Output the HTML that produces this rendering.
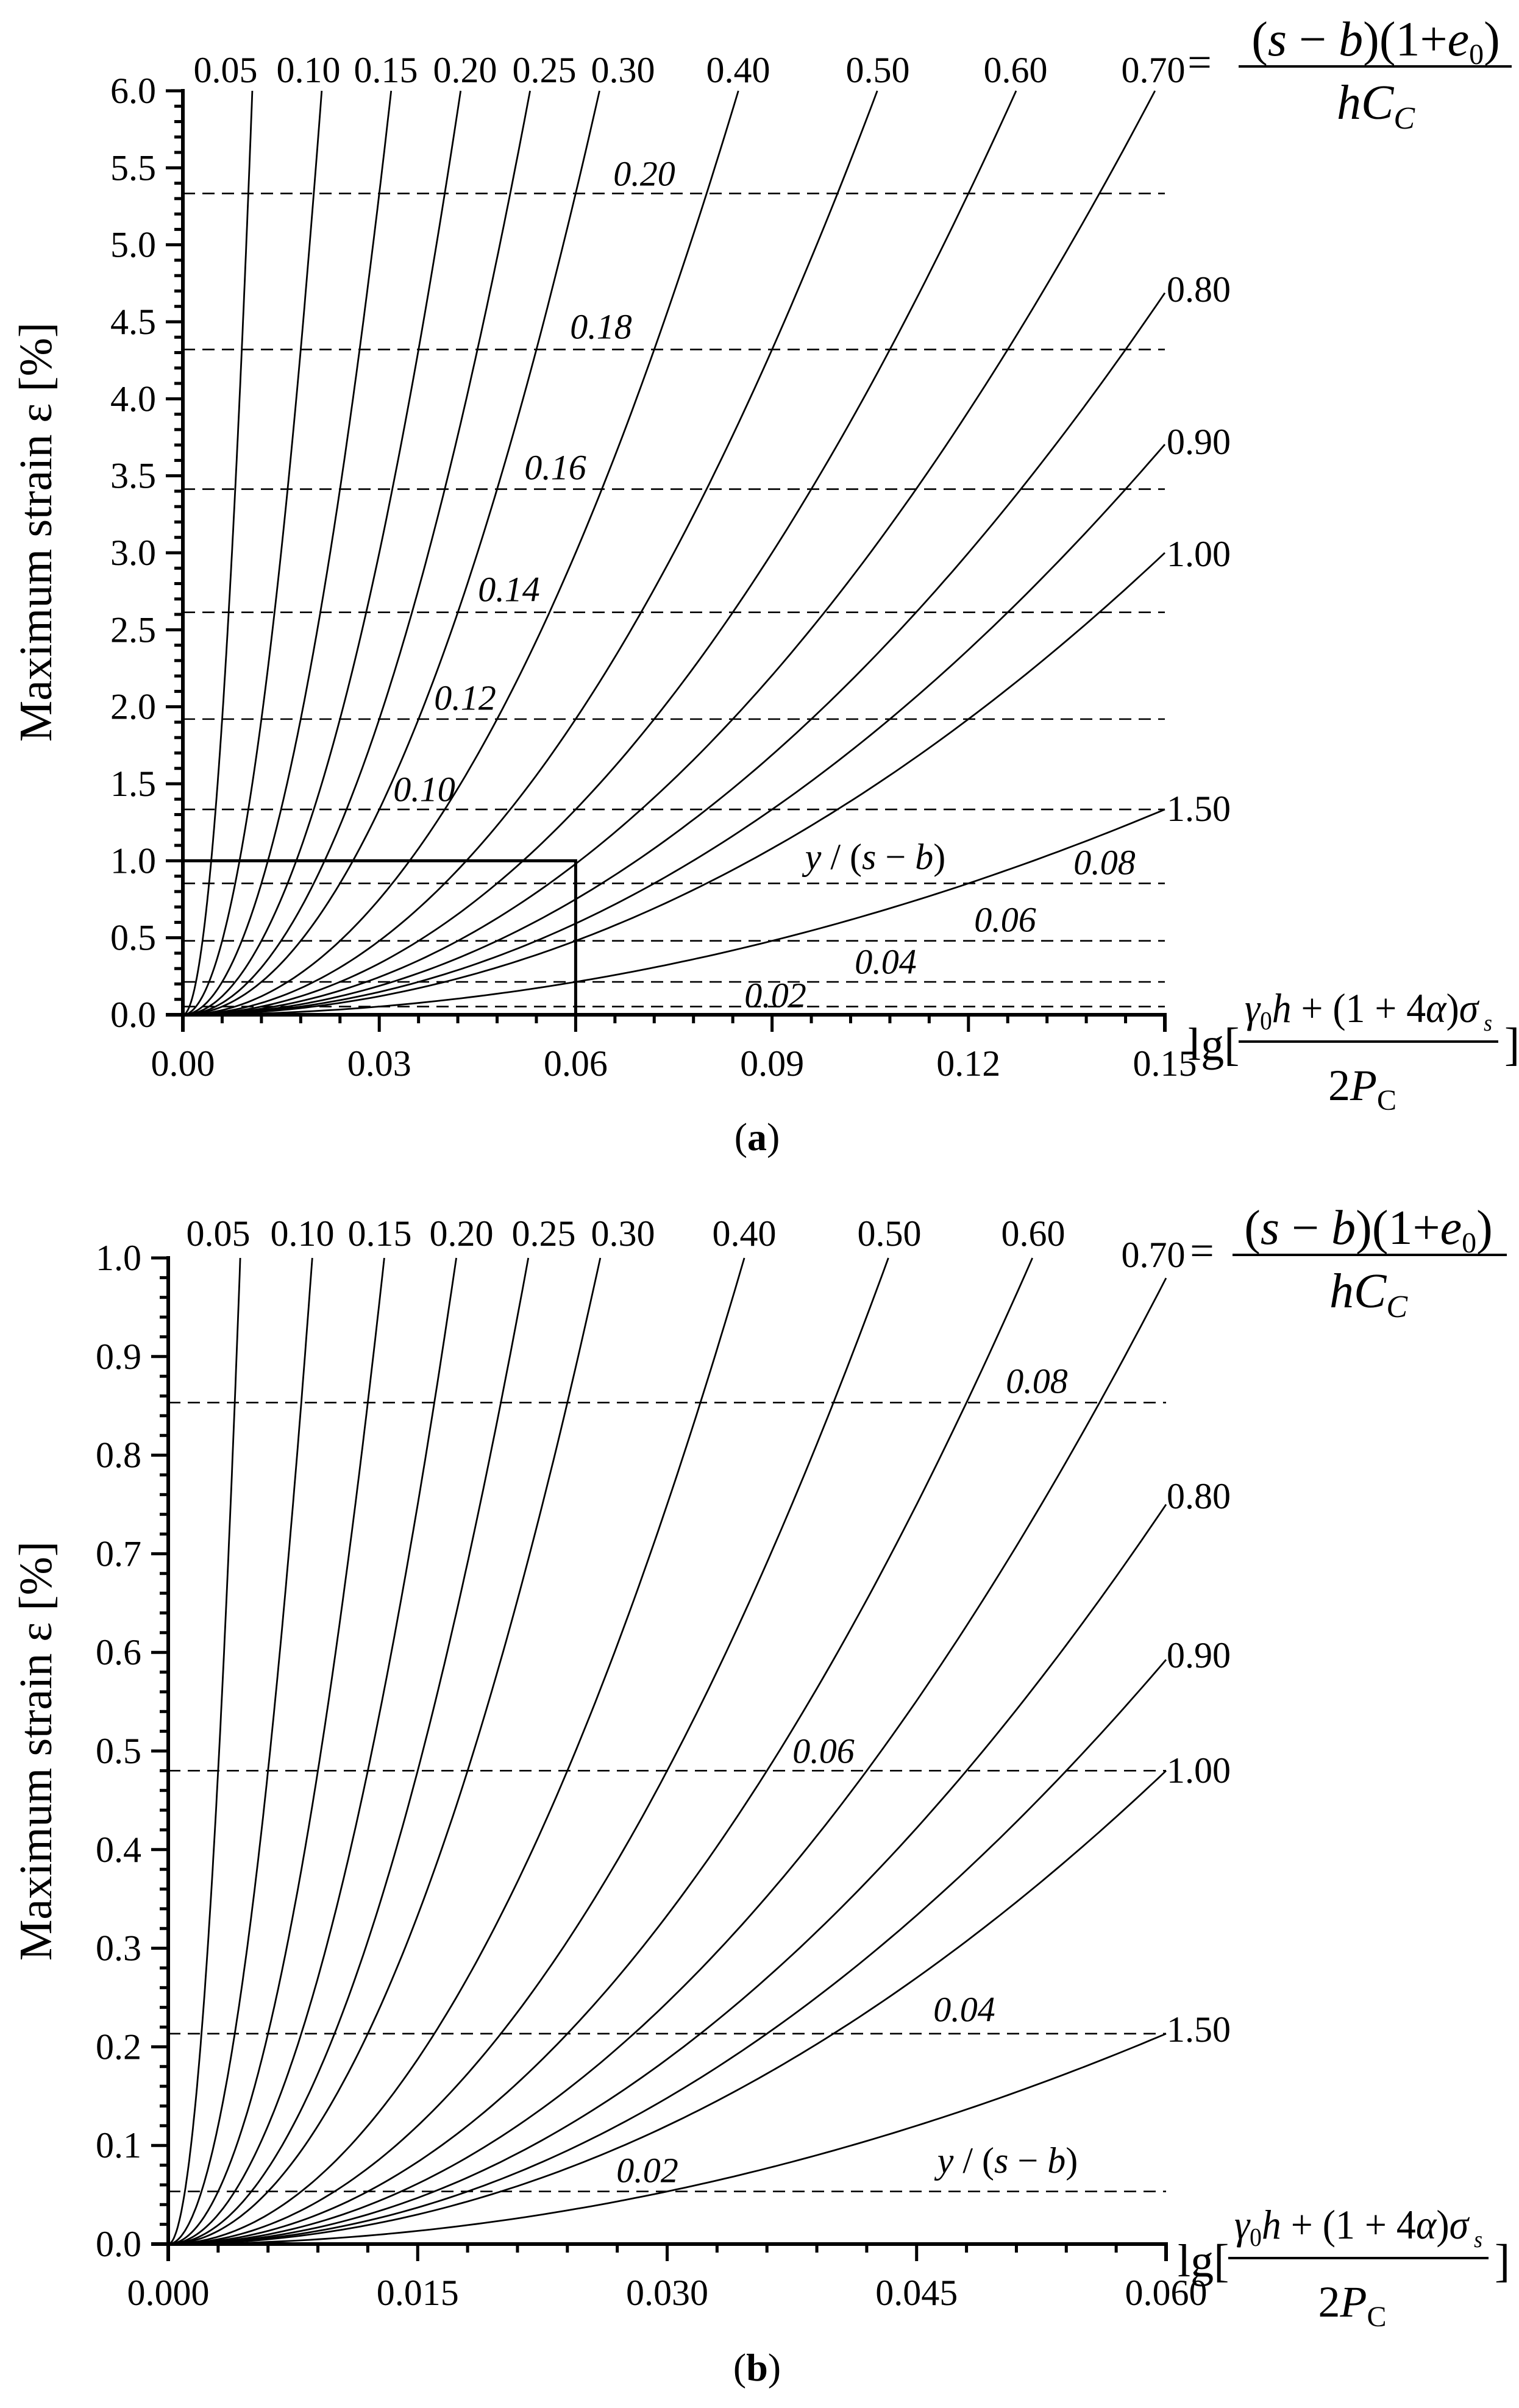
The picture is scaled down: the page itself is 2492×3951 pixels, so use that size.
<!DOCTYPE html>
<html><head><meta charset="utf-8">
<style>
html,body{margin:0;padding:0;background:#fff;}
svg, svg text, svg tspan{font-family:"Liberation Serif","Times New Roman",serif;}
</style></head>
<body>
<svg id="s" xmlns="http://www.w3.org/2000/svg" width="2492" height="3946" viewBox="0 0 2492 3946" font-family="Liberation Serif, serif">
<rect width="2492" height="3946" fill="#fff"/>
<g id="g" font-family="Liberation Serif, serif"></g>
</svg>
<script>
(function(){
var NS="http://www.w3.org/2000/svg";
var g=document.getElementById('g');
var FF="Liberation Serif, serif";
function el(tag,attrs,text){var e=document.createElementNS(NS,tag);for(var k in attrs)e.setAttribute(k,attrs[k]);if(tag=='text')e.setAttribute('font-family',FF);if(text!==undefined)e.textContent=text;g.appendChild(e);return e;}
function txt(x,y,s,opt){opt=opt||{};return el('text',{x:x,y:y,'font-size':opt.fs||60,'text-anchor':opt.anchor||'middle','font-style':opt.it?'italic':'normal','dominant-baseline':'central',fill:'#000'},s);}
var C=133.333;
var params=[0.05,0.10,0.15,0.20,0.25,0.30,0.40,0.50,0.60,0.70,0.80,0.90,1.00,1.50];
function panel(P){
  var sx=function(v){return P.X0+(v/P.xmax)*(P.X1-P.X0);};
  var sy=function(v){return P.Y0-(v/P.ymax)*(P.Y0-P.Y1);};
  P.dash.forEach(function(v){var e=C*v*v;var y=sy(e);
    el('line',{x1:P.X0,y1:y,x2:P.X1,y2:y,stroke:'#000','stroke-width':2.6,'stroke-dasharray':'20 12'});});
  params.forEach(function(r){
    var xe=Math.min(P.xmax,r*Math.sqrt(P.ymax/C));var d='';var N=120;
    for(var i=0;i<=N;i++){var x=xe*i/N;var e=C*(x/r)*(x/r);d+=(i?'L':'M')+sx(x).toFixed(1)+' '+sy(e).toFixed(1);}
    el('path',{d:d,fill:'none',stroke:'#000','stroke-width':2.8});
  });
  if(P.box){el('rect',{x:P.X0,y:sy(1),width:sx(0.06)-P.X0,height:P.Y0-sy(1),fill:'none',stroke:'#000','stroke-width':5});}
  el('line',{x1:P.X0,y1:P.Y1-3,x2:P.X0,y2:P.Y0+28,stroke:'#000','stroke-width':6});
  el('line',{x1:P.X0-28,y1:P.Y0,x2:P.X1+3,y2:P.Y0,stroke:'#000','stroke-width':6});
  el('line',{x1:P.X1,y1:P.Y0,x2:P.X1,y2:P.Y0+28,stroke:'#000','stroke-width':6});
  var nx=Math.round(P.xmax/P.xmaj);
  for(var i=0;i<=nx*5;i++){var x=sx(P.xmaj*i/5);var maj=i%5==0;
    el('line',{x1:x,y1:P.Y0,x2:x,y2:P.Y0+(maj?28:14),stroke:'#000','stroke-width':5});
    if(maj)txt(x,P.Y0+80,(P.xmaj*i/5).toFixed(P.xdec),{fs:60});}
  var ny=Math.round(P.ymax/P.ymaj);
  for(var j=0;j<=ny*5;j++){var y=sy(P.ymaj*j/5);var maj=j%5==0;
    el('line',{x1:P.X0,y1:y,x2:P.X0-(maj?28:14),y2:y,stroke:'#000','stroke-width':5});
    if(maj)txt(P.X0-44,y,(P.ymaj*j/5).toFixed(1),{fs:60,anchor:'end'});}
  P.top.forEach(function(t){txt(t[1],P.topY,t[0],{fs:60});});
  P.right.forEach(function(t){txt(1914,t[1],t[0],{fs:60,anchor:'start'});});
  P.dl.forEach(function(t){txt(t[1],t[2],t[0],{fs:58,it:true});});
  var e=el('text',{x:P.yl[0],y:P.yl[1],'font-size':60,'text-anchor':'middle','dominant-baseline':'central'});
  e.innerHTML='<tspan font-style="italic">y</tspan> / (<tspan font-style="italic">s</tspan> − <tspan font-style="italic">b</tspan>)';
  el('text',{x:0,y:0,'font-size':76,'text-anchor':'middle','dominant-baseline':'central',transform:'translate(59,'+P.ttl+') rotate(-90)'},'Maximum strain ε [%]');
  var f=P.tf;
  txt(f.eqx,f.line-6,'=',{fs:70});
  var n=el('text',{x:f.cx,y:f.line-18,'font-size':80,'text-anchor':'middle'});
  n.innerHTML='(<tspan font-style="italic">s</tspan> − <tspan font-style="italic">b</tspan>)(1+<tspan font-style="italic">e</tspan><tspan font-size="48" dy="14">0</tspan><tspan dy="-14">)</tspan>';
  el('line',{x1:f.lx1,y1:f.line,x2:f.lx2,y2:f.line,stroke:'#000','stroke-width':4});
  var dd=el('text',{x:f.cx,y:f.line+86,'font-size':80,'text-anchor':'middle'});
  dd.innerHTML='<tspan font-style="italic">hC</tspan><tspan font-style="italic" font-size="52" dy="16">C</tspan>';
  var b=P.bf;
  el('text',{x:b.lgx,y:b.line+30,'font-size':76,'text-anchor':'start'},'lg[');
  var nn=el('text',{x:(b.lx1+b.lx2)/2,y:b.line-32,'font-size':68,'text-anchor':'middle',textLength:b.lx2-b.lx1-20,lengthAdjust:'spacingAndGlyphs'});
  nn.innerHTML='<tspan font-style="italic">γ</tspan><tspan font-size="42" dy="12">0</tspan><tspan font-style="italic" dy="-12">h</tspan> + (1 + 4<tspan font-style="italic">α</tspan>)<tspan font-style="italic">σ</tspan><tspan font-style="italic" font-size="38" dy="14"> s</tspan>';
  el('line',{x1:b.lx1,y1:b.line,x2:b.lx2,y2:b.line,stroke:'#000','stroke-width':4});
  var d2=el('text',{x:(b.lx1+b.lx2)/2-10,y:b.line+96,'font-size':72,'text-anchor':'middle'});
  d2.innerHTML='2<tspan font-style="italic">P</tspan><tspan font-size="48" dy="16">C</tspan>';
  el('text',{x:b.rb,y:b.line+30,'font-size':76,'text-anchor':'start'},']');
  var cap=el('text',{x:1242,y:P.cap,'font-size':64,'text-anchor':'middle','dominant-baseline':'central'});
  cap.innerHTML='(<tspan font-weight="bold">'+P.capl+'</tspan>)';
}
panel({X0:300,X1:1911,xmax:0.15,Y0:1665,Y1:149,ymax:6,xmaj:0.03,ymaj:0.5,xdec:2,box:true,
  dash:[0.02,0.04,0.06,0.08,0.10,0.12,0.14,0.16,0.18,0.20],
  top:[['0.05',370],['0.10',506],['0.15',633],['0.20',763],['0.25',893],['0.30',1022],['0.40',1211],['0.50',1440],['0.60',1666],['0.70',1892]],topY:115,
  right:[['0.80',475],['0.90',725],['1.00',909],['1.50',1327]],
  dl:[['0.20',1057,285],['0.18',986,536],['0.16',911,767],['0.14',835,967],['0.12',763,1145],['0.10',696,1295],['0.08',1812,1415],['0.06',1649,1509],['0.04',1453,1578],['0.02',1272,1633]],
  yl:[1436,1406],ttl:873,
  tf:{eqx:1968,cx:2257,line:109,lx1:2032,lx2:2480},
  bf:{lgx:1949,line:1709,lx1:2032,lx2:2458,rb:2468},
  cap:1865,capl:'a'});
panel({X0:276,X1:1913,xmax:0.06,Y0:3682,Y1:2064,ymax:1,xmaj:0.015,ymaj:0.1,xdec:3,box:false,
  dash:[0.02,0.04,0.06,0.08],
  top:[['0.05',358],['0.10',496],['0.15',623],['0.20',757],['0.25',892],['0.30',1022],['0.40',1221],['0.50',1459],['0.60',1695]],topY:2024,
  right:[['0.80',2455],['0.90',2716],['1.00',2905],['1.50',3330]],
  dl:[['0.08',1701,2266],['0.06',1351,2873],['0.04',1582,3297],['0.02',1062,3561]],
  yl:[1653,3545],ttl:2873,
  tf:{eqx:1972,cx:2245,line:2059,lx1:2022,lx2:2472},
  bf:{lgx:1932,line:3705,lx1:2015,lx2:2442,rb:2452},
  cap:3884,capl:'b'});
txt(1892,2059,'0.70',{fs:60});
})();
</script>
</body></html>
